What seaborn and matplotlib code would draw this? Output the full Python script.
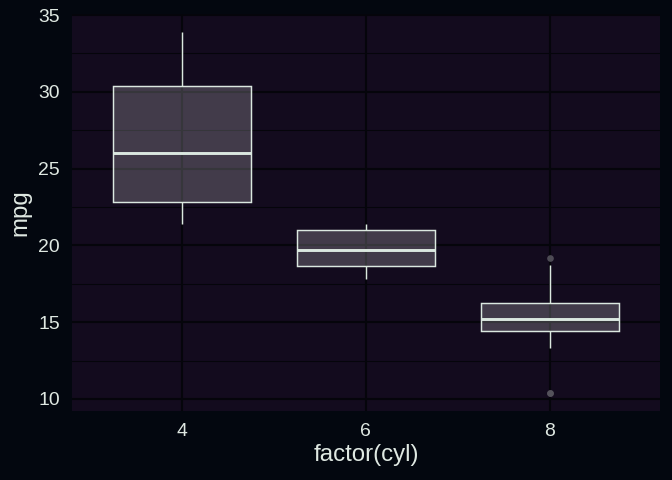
import pandas as pd
import numpy as np
import matplotlib
matplotlib.use("Agg")
import matplotlib.pyplot as plt
import seaborn as sns
from matplotlib.ticker import MultipleLocator

# mtcars mpg grouped by cylinder count
mpg_4 = [22.8, 24.4, 22.8, 32.4, 30.4, 33.9, 21.5, 27.3, 26.0, 30.4, 21.4]
mpg_6 = [21.0, 21.0, 21.4, 18.1, 19.2, 17.8, 19.7]
mpg_8 = [18.7, 14.3, 16.4, 17.3, 15.2, 10.4, 10.4, 14.7, 15.5, 15.2, 13.3, 19.2, 15.8, 15.0]
cyl_levels = ["4", "6", "8"]


def main() -> None:
    df = pd.DataFrame({
        "cyl": ["4"] * len(mpg_4) + ["6"] * len(mpg_6) + ["8"] * len(mpg_8),
        "mpg": mpg_4 + mpg_6 + mpg_8,
    })

    bg = "#03070f"
    panel = "#130b1e"
    edge = "#dbe8e0"
    text_col = "#dfe8e2"
    grid_col = "#05050b"

    sns.set_style("dark")
    plt.rcParams["font.family"] = ["Liberation Sans", "DejaVu Sans"]
    fig, ax = plt.subplots(figsize=(7, 5), dpi=96)
    fig.patch.set_facecolor(bg)
    ax.set_facecolor(panel)

    sns.boxplot(
        data=df, x="cyl", y="mpg", order=cyl_levels, ax=ax, width=0.75,
        color="#ffffff",
        boxprops=dict(facecolor=(1, 1, 1, 0.2), edgecolor=edge, linewidth=1.1),
        whiskerprops=dict(color=edge, linewidth=1.1),
        capprops=dict(linewidth=0),
        medianprops=dict(color=edge, linewidth=2.2),
        flierprops=dict(marker="o", markersize=5, markerfacecolor="#55535c",
                        markeredgecolor="none", alpha=0.9),
        zorder=3,
    )

    ax.set_xlim(-0.6, 2.6)
    ax.set_ylim(9.225, 35.075)
    ax.yaxis.set_major_locator(MultipleLocator(5))
    ax.yaxis.set_minor_locator(MultipleLocator(2.5))
    ax.grid(True, which="major", color=grid_col, linewidth=1.6, zorder=0)
    ax.grid(True, which="minor", axis="y", color=grid_col, linewidth=0.8, zorder=0)
    ax.set_axisbelow(True)
    for s in ax.spines.values():
        s.set_visible(False)

    ax.tick_params(axis="both", which="both", length=0, colors=text_col, labelsize=14.5)
    ax.tick_params(axis="x", pad=9)
    ax.tick_params(axis="y", pad=9)
    ax.set_xlabel("factor(cyl)", color=text_col, fontsize=18, labelpad=3)
    ax.set_ylabel("mpg", color=text_col, fontsize=18, labelpad=5)

    fig.subplots_adjust(left=0.107, right=0.982, top=0.971, bottom=0.144)
    fig.savefig("out.png", dpi=96, facecolor=bg)


if __name__ == "__main__":
    main()
